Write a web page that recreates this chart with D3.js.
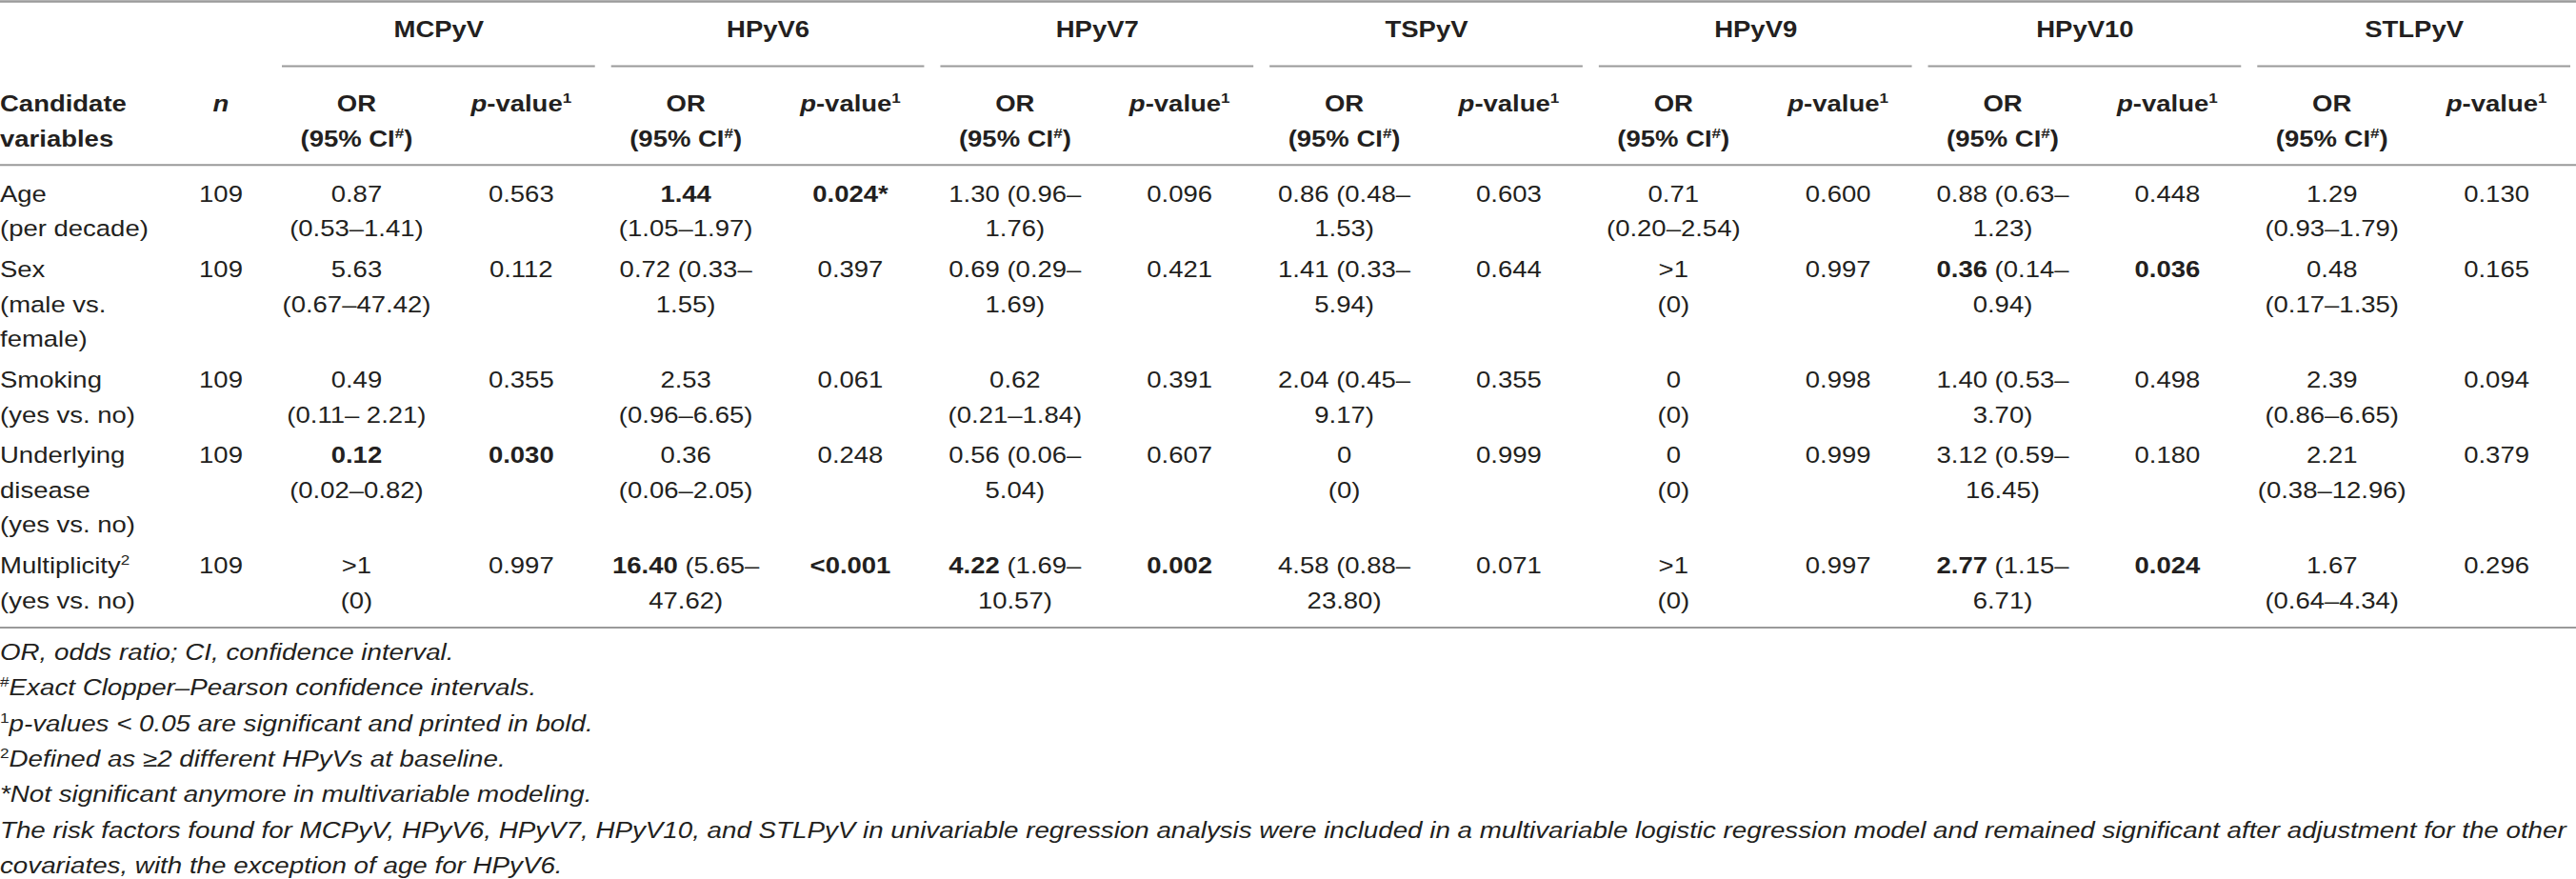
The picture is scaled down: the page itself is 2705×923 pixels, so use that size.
<!DOCTYPE html>
<html lang="en">
<head>
<meta charset="UTF-8">
<title>HPyV risk factors table</title>
<script src="https://d3js.org/d3.v7.min.js"></script>
<style>
  html, body { margin: 0; padding: 0; background: #fff; }
  svg { display: block; }
</style>
</head>
<body>
<svg id="table" width="2705" height="923"></svg>
<script>
// markup in cells: {..} bold, ~..~ italic, ^..^ superscript, \n line break
const viruses = ["MCPyV", "HPyV6", "HPyV7", "TSPyV", "HPyV9", "HPyV10", "STLPyV"];
const variables = [
  "Age\n(per decade)",
  "Sex\n(male vs.\nfemale)",
  "Smoking\n(yes vs. no)",
  "Underlying\ndisease\n(yes vs. no)",
  "Multiplicity^2^\n(yes vs. no)"
];
const nValues = [109, 109, 109, 109, 109];

const orAge = ["0.87\n(0.53–1.41)", "{1.44}\n(1.05–1.97)", "1.30 (0.96–\n1.76)", "0.86 (0.48–\n1.53)", "0.71\n(0.20–2.54)", "0.88 (0.63–\n1.23)", "1.29\n(0.93–1.79)"];
const pAge = ["0.563", "{0.024*}", "0.096", "0.603", "0.600", "0.448", "0.130"];
const orSex = ["5.63\n(0.67–47.42)", "0.72 (0.33–\n1.55)", "0.69 (0.29–\n1.69)", "1.41 (0.33–\n5.94)", ">1\n(0)", "{0.36} (0.14–\n0.94)", "0.48\n(0.17–1.35)"];
const pSex = ["0.112", "0.397", "0.421", "0.644", "0.997", "{0.036}", "0.165"];
const orSmoking = ["0.49\n(0.11– 2.21)", "2.53\n(0.96–6.65)", "0.62\n(0.21–1.84)", "2.04 (0.45–\n9.17)", "0\n(0)", "1.40 (0.53–\n3.70)", "2.39\n(0.86–6.65)"];
const pSmoking = ["0.355", "0.061", "0.391", "0.355", "0.998", "0.498", "0.094"];
const orDisease = ["{0.12}\n(0.02–0.82)", "0.36\n(0.06–2.05)", "0.56 (0.06–\n5.04)", "0\n(0)", "0\n(0)", "3.12 (0.59–\n16.45)", "2.21\n(0.38–12.96)"];
const pDisease = ["{0.030}", "0.248", "0.607", "0.999", "0.999", "0.180", "0.379"];
const orMulti = [">1\n(0)", "{16.40} (5.65–\n47.62)", "{4.22} (1.69–\n10.57)", "4.58 (0.88–\n23.80)", ">1\n(0)", "{2.77} (1.15–\n6.71)", "1.67\n(0.64–4.34)"];
const pMulti = ["0.997", "{<0.001}", "{0.002}", "0.071", "0.997", "{0.024}", "0.296"];

const orRows = [orAge, orSex, orSmoking, orDisease, orMulti];
const pRows = [pAge, pSex, pSmoking, pDisease, pMulti];

const footnotes = [
  "~OR, odds ratio; CI, confidence interval.~",
  "^#^~Exact Clopper–Pearson confidence intervals.~",
  "^1^~p-values < 0.05 are significant and printed in bold.~",
  "^2^~Defined as ≥2 different HPyVs at baseline.~",
  "~*Not significant anymore in multivariable modeling.~",
  "~The risk factors found for MCPyV, HPyV6, HPyV7, HPyV10, and STLPyV in univariable regression analysis were included in a multivariable logistic regression model and remained significant after adjustment for the other~",
  "~covariates, with the exception of age for HPyV6.~"
];

const svg = d3.select("#table");
const W = 2705;
const FS = 23.5, SX = 1.17, SXF = 1.181, LH = 36.7;
const ink = "#231f20", rule = "#9a9a9a";

// columns
const groupX = d3.scaleBand().domain(viruses).range([288, 2708]);
const subX = d3.scaleBand().domain(["or", "p"]).range([0, groupX.bandwidth()]);
const nX = 232;

// rows: baseline of each row from cumulative line counts
const lineCount = variables.map((v, i) => Math.max(
  v.split("\n").length,
  ...orRows[i].map(s => s.split("\n").length)));
const rowPad = 5.8;
const rowY = [];
let acc = 211.7;
lineCount.forEach((c, i) => { rowY.push(acc); acc += c * LH + rowPad; });

// parse markup into runs
function parse(str) {
  const runs = [];
  let bold = false, ital = false, sup = false, buf = "";
  const flush = () => { if (buf) runs.push({ t: buf, bold, ital, sup }); buf = ""; };
  for (const ch of str) {
    if (ch === "{") { flush(); bold = true; }
    else if (ch === "}") { flush(); bold = false; }
    else if (ch === "~") { flush(); ital = !ital; }
    else if (ch === "^") { flush(); sup = !sup; }
    else buf += ch;
  }
  flush();
  return runs;
}

function rich(g, str, x, y, anchor, sx) {
  str.split("\n").forEach((line, li) => {
    const t = g.append("text")
      .attr("transform", `translate(${x},${y + li * LH}) scale(${sx || SX},1)`)
      .attr("text-anchor", anchor)
      .attr("font-family", "'Liberation Sans', Arial, Helvetica, sans-serif")
      .attr("font-size", FS)
      .attr("fill", ink);
    let shifted = false;
    parse(line).forEach(r => {
      const ts = t.append("tspan").text(r.t)
        .attr("font-weight", r.bold ? "bold" : "normal")
        .attr("font-style", r.ital ? "italic" : "normal");
      if (r.sup && !shifted) { ts.attr("dy", -9).attr("font-size", FS * 0.62); shifted = true; }
      else if (r.sup) ts.attr("font-size", FS * 0.62);
      else if (shifted) { ts.attr("dy", 9); shifted = false; }
    });
  });
}

// rules
const rules = svg.append("g").attr("stroke", rule);
rules.append("line").attr("x1", 0).attr("x2", W).attr("y1", 1.5).attr("y2", 1.5).attr("stroke-width", 2.5);
rules.append("line").attr("x1", 0).attr("x2", W).attr("y1", 173.3).attr("y2", 173.3).attr("stroke-width", 2);
rules.append("line").attr("x1", 0).attr("x2", W).attr("y1", 659).attr("y2", 659).attr("stroke-width", 2);
rules.selectAll(".under").data(viruses).join("line")
  .attr("class", "under")
  .attr("x1", d => groupX(d) + 8)
  .attr("x2", d => groupX(d) + groupX.bandwidth() - 9)
  .attr("y1", 69.5).attr("y2", 69.5)
  .attr("stroke-width", 2);

// header
const head = svg.append("g");
viruses.forEach(v => {
  rich(head, "{" + v + "}", groupX(v) + groupX.bandwidth() / 2, 38.5, "middle");
  rich(head, "{OR}\n{(95% CI^#^)}", groupX(v) + subX("or") + subX.bandwidth() / 2, 117, "middle");
  rich(head, "{~p~-value^1^}", groupX(v) + subX("p") + subX.bandwidth() / 2, 117, "middle");
});
rich(head, "{Candidate}\n{variables}", 0, 117, "start");
rich(head, "{~n~}", nX, 117, "middle");

// body
const body = svg.append("g");
variables.forEach((v, i) => {
  rich(body, v, 0, rowY[i], "start");
  rich(body, String(nValues[i]), nX, rowY[i], "middle");
  viruses.forEach((vir, j) => {
    rich(body, orRows[i][j], groupX(vir) + subX("or") + subX.bandwidth() / 2, rowY[i], "middle");
    rich(body, pRows[i][j], groupX(vir) + subX("p") + subX.bandwidth() / 2, rowY[i], "middle");
  });
});

// footnotes
const foot = svg.append("g");
footnotes.forEach((f, i) => rich(foot, f, 0, 693 + i * 37.3, "start", SXF));
</script>
</body>
</html>
